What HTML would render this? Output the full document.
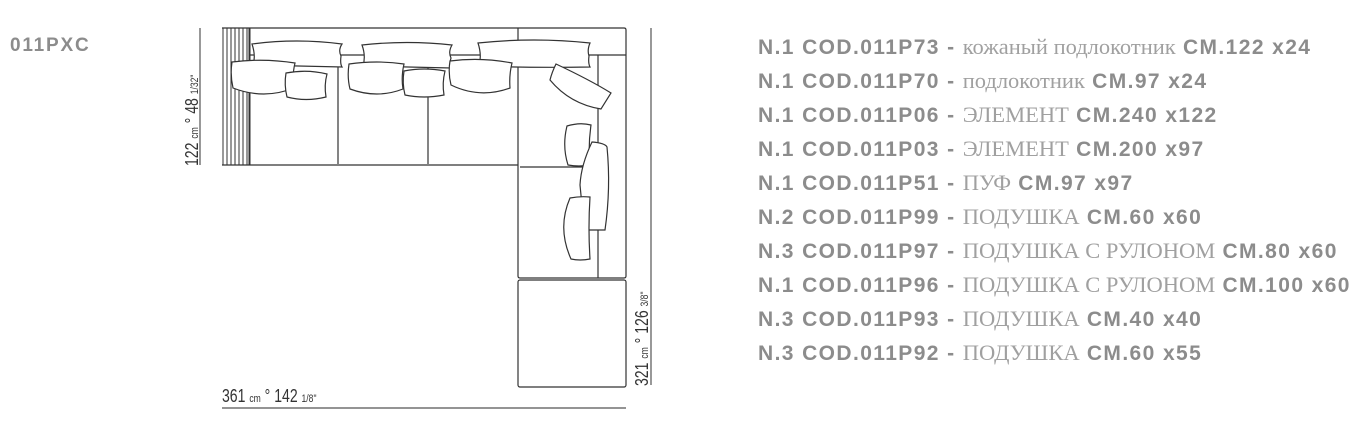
<!DOCTYPE html>
<html><head><meta charset="utf-8"><style>
body{margin:0;width:1363px;height:433px;background:#fff;position:relative;overflow:hidden;font-family:"Liberation Sans",sans-serif}
.t{position:absolute;left:758px;white-space:nowrap;color:#8c8c8c;font-size:21px;font-weight:bold;letter-spacing:1.4px;line-height:24px}
.t span{font-family:"Liberation Serif",serif;font-weight:normal;color:#a0a0a0;font-size:22.5px;letter-spacing:0}
.d{position:absolute;font-size:18px;color:#333;white-space:nowrap;transform-origin:left top}
.d small{font-size:11px}
</style></head><body>
<div style="position:absolute;left:10px;top:35px;color:#8c8c8c;font-size:19px;font-weight:bold;letter-spacing:1.8px">011PXC</div>
<svg width="1363" height="433" style="position:absolute;left:0;top:0" fill="none" stroke="#333" stroke-width="1.2">
<g stroke-width="1">
<line x1="223" y1="28" x2="223" y2="165"/><line x1="227" y1="28" x2="227" y2="165"/><line x1="231" y1="28" x2="231" y2="165"/><line x1="235" y1="28" x2="235" y2="165"/><line x1="239" y1="28" x2="239" y2="165"/><line x1="243" y1="28" x2="243" y2="165"/><line x1="247" y1="28" x2="247" y2="165"/></g>
<line x1="249.5" y1="28" x2="249.5" y2="165" stroke-width="2"/>
<line x1="222" y1="28" x2="624" y2="28"/><path d="M624 28 Q626 28 626 30 V163"/>
<line x1="222" y1="165" x2="518" y2="165"/>
<line x1="338" y1="55" x2="338" y2="164"/><line x1="428" y1="60" x2="428" y2="164"/>
<line x1="518" y1="28" x2="518" y2="165"/>
<line x1="250" y1="55" x2="518" y2="55"/><line x1="518" y1="55" x2="626" y2="55"/>
<line x1="598" y1="55" x2="598" y2="278"/>
<path d="M520 167 H598"/>
<path d="M518 165 V276 Q518 278 520 278 H624 Q626 278 626 276 V163"/>
<rect x="518" y="280" width="108" height="107" rx="2"/>
<line x1="200" y1="28" x2="200" y2="165" stroke="#555"/>
<line x1="222" y1="408" x2="626" y2="408" stroke="#555"/>
<line x1="651" y1="28" x2="651" y2="385" stroke="#555"/>
<g fill="#fff">
<path d="M252 44 Q297 38 342 44 Q338 50 341 56 Q340 64 342 67 Q297 66 253 65 Q256 56 252 44Z"/>
<path d="M362 45 Q407 40 452 45 Q448 52 451 58 Q449 64 451 68 Q407 67 363 66 Q366 56 362 45Z"/>
<path d="M478 43 Q534 37 590 43 Q587 50 589 56 Q588 63 590 67 Q534 68 479 66 Q482 55 478 43Z"/>
<path d="M232 62 Q264 58 295 63 Q292 75 294 88 Q264 100 233 88 Q230 75 232 62Z"/>
<path d="M286 73 Q307 69 327 74 Q324 85 326 97 Q306 102 287 97 Q284 85 286 73Z"/>
<path d="M349 64 Q377 60 404 64 Q401 77 403 89 Q377 99 350 89 Q347 77 349 64Z"/>
<path d="M404 71 Q424 67 445 71 Q442 83 444 95 Q424 99 405 95 Q402 83 404 71Z"/>
<path d="M450 61 Q481 57 512 63 Q509 75 510 88 Q480 99 451 85 Q448 73 450 61Z"/>
<path d="M556 64 Q590 80 611 93 Q606 101 601 109 Q570 104 550 80 Q552 72 556 64Z"/>
<path d="M567 126 Q580 122 591 125 Q588 146 590 165 Q579 167 568 165 Q562 146 567 126Z"/>
<path d="M592 142 Q605 143 607 147 Q611 188 605 230 Q596 230 581 230 Q583 210 580 185 Q581 165 592 142Z"/>
<path d="M570 198 Q580 196 590 197 Q588 228 590 259 Q580 261 571 259 Q557 228 570 198Z"/>
</g>
</svg>
<div class="d" style="left:222px;top:386px;transform:scaleX(0.78)">361 <small>cm</small> ° 142 <small>1/8"</small></div>
<div class="d" style="left:182px;top:166px;transform:rotate(-90deg) scaleX(0.78)">122 <small>cm</small> ° 48 <small>1/32"</small></div>
<div class="d" style="left:632px;top:386px;transform:rotate(-90deg) scaleX(0.78)">321 <small>cm</small> ° 126 <small>3/8"</small></div>
<div class="t" style="top:35px">N.1 COD.011P73 - <span>кожаный подлокотник</span> CM.122 x24</div>
<div class="t" style="top:69px">N.1 COD.011P70 - <span>подлокотник</span> CM.97 x24</div>
<div class="t" style="top:103px">N.1 COD.011P06 - <span>ЭЛЕМЕНТ</span> CM.240 x122</div>
<div class="t" style="top:137px">N.1 COD.011P03 - <span>ЭЛЕМЕНТ</span> CM.200 x97</div>
<div class="t" style="top:171px">N.1 COD.011P51 - <span>ПУФ</span> CM.97 x97</div>
<div class="t" style="top:205px">N.2 COD.011P99 - <span>ПОДУШКА</span> CM.60 x60</div>
<div class="t" style="top:239px">N.3 COD.011P97 - <span>ПОДУШКА С РУЛОНОМ</span> CM.80 x60</div>
<div class="t" style="top:273px">N.1 COD.011P96 - <span>ПОДУШКА С РУЛОНОМ</span> CM.100 x60</div>
<div class="t" style="top:307px">N.3 COD.011P93 - <span>ПОДУШКА</span> CM.40 x40</div>
<div class="t" style="top:341px">N.3 COD.011P92 - <span>ПОДУШКА</span> CM.60 x55</div>
</body></html>
